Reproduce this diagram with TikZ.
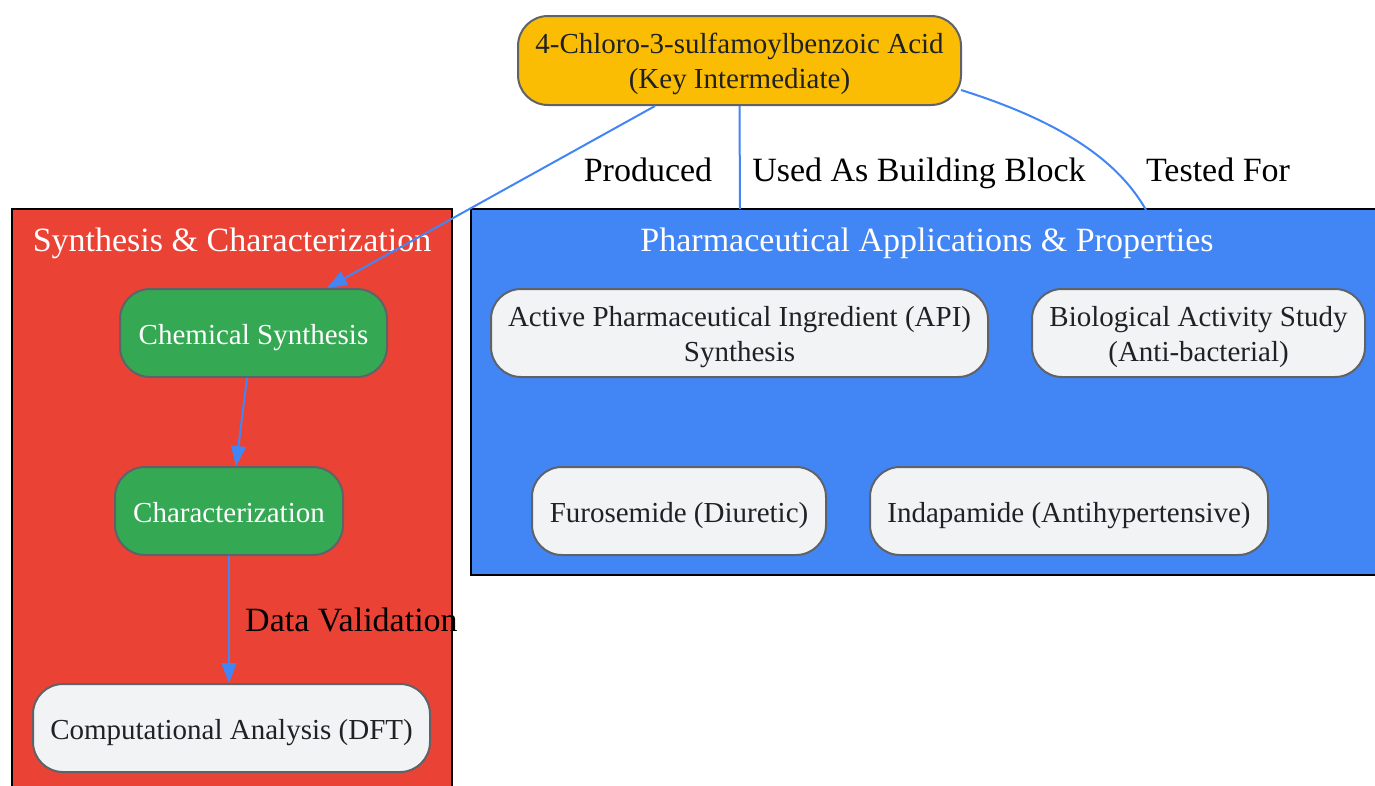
\documentclass[tikz,border=0pt]{standalone}
\usepackage{fontspec}
\setmainfont{Liberation Serif}
\usetikzlibrary{arrows.meta}
\definecolor{gyellow}{HTML}{FBBC04}
\definecolor{gred}{HTML}{EA4335}
\definecolor{gblue}{HTML}{4285F4}
\definecolor{ggreen}{HTML}{34A853}
\definecolor{glight}{HTML}{F1F3F4}
\definecolor{gborder}{HTML}{5F6368}
\definecolor{gtext}{HTML}{202124}
\tikzset{
  box/.style={draw=gborder, line width=2pt, rounded corners=30pt, align=center,
    inner sep=0pt, font=\fontsize{29}{35}\selectfont, text height=22pt, text depth=0pt},
  twoline/.style={text height=56pt, text depth=0pt},
  lightbox/.style={box, fill=glight, text=gtext},
  greenbox/.style={box, fill=ggreen, text=white},
  keybox/.style={box, fill=gyellow, text=gtext},
  cluster/.style={draw=black, line width=2pt},
  ctitle/.style={text=white, font=\fontsize{34}{40}\selectfont, inner sep=0pt, anchor=base},
  elabel/.style={text=black, font=\fontsize{34}{40}\selectfont, inner sep=0pt, anchor=base},
  edge/.style={draw=gblue, line width=2pt},
  arr/.style={edge, -{Triangle[length=20pt,width=15pt]}},
}
\begin{document}
\begin{tikzpicture}[x=1pt,y=-1pt]
\useasboundingbox (0,0) rectangle (1375,785);
\clip (0,0) rectangle (1375,785);
% clusters
\draw[cluster, fill=gred] (12,209) rectangle (452,800);
\draw[cluster, fill=gblue] (471,209) rectangle (1390,575);
\node[ctitle] (t1) at (232,251) {Synthesis \& Characterization};
\node[ctitle] (t2) at (927,251) {Pharmaceutical Applications \& Properties};
% nodes
\node[keybox, twoline, minimum width=443pt, minimum height=89pt] (top) at (739.5,60.5) {4-Chloro-3-sulfamoylbenzoic Acid\\(Key Intermediate)};
\node[greenbox, minimum width=267pt, minimum height=88pt] (chem) at (253.5,333) {Chemical Synthesis};
\node[greenbox, minimum width=228pt, minimum height=88pt] (char) at (229,511) {Characterization};
\node[lightbox, minimum width=397pt, minimum height=88pt] (comp) at (231.5,728) {Computational Analysis (DFT)};
\node[lightbox, twoline, minimum width=497pt, minimum height=88pt] (api) at (739.5,333) {Active Pharmaceutical Ingredient (API)\\Synthesis};
\node[lightbox, twoline, minimum width=333pt, minimum height=88pt] (bio) at (1198.5,333) {Biological Activity Study\\(Anti-bacterial)};
\node[lightbox, minimum width=294pt, minimum height=88pt] (furo) at (679,511) {Furosemide (Diuretic)};
\node[lightbox, minimum width=398pt, minimum height=88pt] (inda) at (1069,511) {Indapamide (Antihypertensive)};
% edge ends at cluster border
\coordinate (bb) at (740,209);
\coordinate (tf) at (1146,210);
% edges
\draw[arr] ([xshift=-84.5pt]top.south) -- ([xshift=73.5pt]chem.north);
\draw[edge] (top.south) -- (bb);
\draw[edge] (961,90) .. controls (1050,118) and (1115,155) .. (tf);
\draw[arr] ([xshift=-6.5pt]chem.south) -- ([xshift=7pt]char.north);
\draw[arr] (char.south) -- (char.south |- comp.north);
% labels
\node[elabel] (l1) at (648,181) {Produced};
\node[elabel] (l2) at (919,181) {Used As Building Block};
\node[elabel] (l3) at (1218,181) {Tested For};
\node[elabel, anchor=base west] (l4) at (245,631) {Data Validation};
\end{tikzpicture}
\end{document}
